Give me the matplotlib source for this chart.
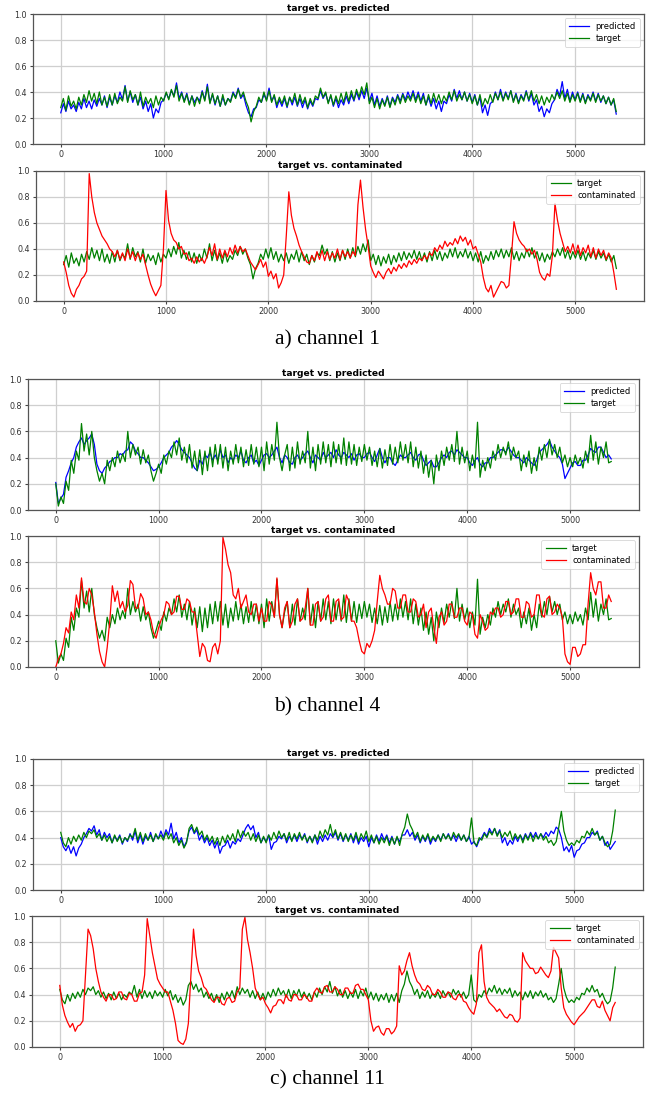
import numpy as np
import matplotlib
matplotlib.use('Agg')
import matplotlib.pyplot as plt

# one value every 25 samples (0 .. 5400)
step = 25

# ---------------- channel 1 ----------------
ch1_target = [
    0.28, 0.35, 0.26, 0.37, 0.29, 0.33, 0.27, 0.36, 0.30, 0.38, 0.32, 0.41, 0.33, 0.39, 0.31, 0.40, 0.30, 0.36, 0.29, 0.38,
    0.30, 0.39, 0.31, 0.36, 0.33, 0.44, 0.32, 0.41, 0.34, 0.38, 0.30, 0.40, 0.29, 0.36, 0.31, 0.35, 0.28, 0.37, 0.30, 0.36,
    0.33, 0.40, 0.34, 0.42, 0.36, 0.45, 0.33, 0.39, 0.32, 0.38, 0.30, 0.37, 0.29, 0.36, 0.31, 0.40, 0.33, 0.44, 0.31, 0.39,
    0.31, 0.37, 0.29, 0.38, 0.30, 0.35, 0.32, 0.39, 0.35, 0.42, 0.36, 0.40, 0.33, 0.28, 0.17, 0.25, 0.29, 0.36, 0.32, 0.40,
    0.33, 0.41, 0.32, 0.38, 0.30, 0.36, 0.31, 0.37, 0.29, 0.36, 0.32, 0.39, 0.30, 0.38, 0.31, 0.36, 0.28, 0.35, 0.30, 0.37,
    0.35, 0.43, 0.36, 0.40, 0.31, 0.38, 0.30, 0.37, 0.31, 0.39, 0.32, 0.40, 0.33, 0.41, 0.34, 0.42, 0.36, 0.44, 0.38, 0.47,
    0.31, 0.36, 0.28, 0.35, 0.27, 0.34, 0.29, 0.36, 0.28, 0.35, 0.30, 0.37, 0.31, 0.38, 0.32, 0.37, 0.33, 0.39, 0.32, 0.38,
    0.31, 0.37, 0.30, 0.38, 0.31, 0.39, 0.32, 0.38, 0.31, 0.37, 0.33, 0.40, 0.34, 0.41, 0.33, 0.38, 0.34, 0.40, 0.33, 0.38,
    0.31, 0.37, 0.30, 0.38, 0.29, 0.35, 0.31, 0.38, 0.32, 0.39, 0.34, 0.40, 0.33, 0.39, 0.34, 0.41, 0.32, 0.38, 0.31, 0.37,
    0.33, 0.40, 0.34, 0.41, 0.33, 0.38, 0.31, 0.37, 0.30, 0.36, 0.32, 0.38, 0.34, 0.40, 0.35, 0.41, 0.33, 0.39, 0.32, 0.38,
    0.33, 0.39, 0.32, 0.38, 0.31, 0.37, 0.33, 0.39, 0.32, 0.38, 0.33, 0.37, 0.31, 0.36, 0.30, 0.35, 0.25]
ch1_predicted = [
    0.24, 0.31, 0.25, 0.33, 0.27, 0.30, 0.25, 0.32, 0.27, 0.35, 0.28, 0.33, 0.27, 0.34, 0.29, 0.35, 0.30, 0.37, 0.28, 0.36,
    0.30, 0.37, 0.32, 0.40, 0.34, 0.45, 0.33, 0.40, 0.32, 0.38, 0.30, 0.36, 0.27, 0.33, 0.25, 0.31, 0.20, 0.27, 0.24, 0.32,
    0.34, 0.39, 0.35, 0.41, 0.37, 0.47, 0.35, 0.40, 0.33, 0.39, 0.31, 0.37, 0.32, 0.36, 0.33, 0.41, 0.34, 0.46, 0.32, 0.38,
    0.30, 0.37, 0.29, 0.36, 0.30, 0.35, 0.33, 0.40, 0.36, 0.43, 0.35, 0.38, 0.30, 0.24, 0.21, 0.27, 0.28, 0.34, 0.32, 0.38,
    0.34, 0.43, 0.33, 0.37, 0.28, 0.34, 0.29, 0.35, 0.28, 0.36, 0.30, 0.36, 0.29, 0.35, 0.28, 0.34, 0.27, 0.33, 0.29, 0.35,
    0.34, 0.41, 0.35, 0.39, 0.32, 0.37, 0.29, 0.35, 0.28, 0.34, 0.30, 0.37, 0.31, 0.38, 0.33, 0.40, 0.34, 0.41, 0.35, 0.43,
    0.33, 0.39, 0.30, 0.37, 0.29, 0.35, 0.30, 0.37, 0.29, 0.36, 0.32, 0.38, 0.33, 0.39, 0.34, 0.40, 0.35, 0.41, 0.34, 0.40,
    0.33, 0.39, 0.30, 0.36, 0.29, 0.35, 0.27, 0.33, 0.25, 0.33, 0.31, 0.38, 0.33, 0.42, 0.35, 0.41, 0.34, 0.40, 0.33, 0.39,
    0.32, 0.38, 0.30, 0.36, 0.24, 0.30, 0.22, 0.31, 0.33, 0.40, 0.34, 0.42, 0.34, 0.40, 0.35, 0.41, 0.33, 0.39, 0.32, 0.38,
    0.34, 0.41, 0.33, 0.39, 0.30, 0.34, 0.25, 0.29, 0.21, 0.27, 0.24, 0.31, 0.34, 0.42, 0.37, 0.48, 0.35, 0.42, 0.33, 0.40,
    0.34, 0.40, 0.33, 0.39, 0.32, 0.38, 0.34, 0.40, 0.33, 0.39, 0.32, 0.37, 0.31, 0.36, 0.30, 0.34, 0.23]
ch1_contaminated = [
    0.30, 0.22, 0.12, 0.06, 0.03, 0.09, 0.12, 0.17, 0.19, 0.23, 0.98, 0.80, 0.68, 0.60, 0.55, 0.50, 0.47, 0.44, 0.40, 0.38,
    0.34, 0.39, 0.32, 0.37, 0.31, 0.40, 0.33, 0.38, 0.31, 0.37, 0.32, 0.36, 0.28, 0.20, 0.13, 0.08, 0.04, 0.08, 0.12, 0.40,
    0.85, 0.62, 0.52, 0.47, 0.45, 0.40, 0.42, 0.36, 0.37, 0.31, 0.33, 0.29, 0.34, 0.30, 0.33, 0.29, 0.34, 0.41, 0.35, 0.44,
    0.32, 0.40, 0.33, 0.39, 0.34, 0.41, 0.36, 0.43, 0.37, 0.42, 0.38, 0.40, 0.35, 0.30, 0.27, 0.24, 0.28, 0.32, 0.26, 0.30,
    0.19, 0.23, 0.17, 0.21, 0.10, 0.14, 0.20, 0.50, 0.84, 0.66, 0.56, 0.50, 0.43, 0.38, 0.34, 0.30, 0.29, 0.35, 0.31, 0.38,
    0.32, 0.39, 0.31, 0.38, 0.32, 0.37, 0.33, 0.40, 0.32, 0.39, 0.34, 0.38, 0.33, 0.38, 0.35, 0.74, 0.93, 0.72, 0.55, 0.42,
    0.27, 0.22, 0.18, 0.23, 0.20, 0.17, 0.22, 0.25, 0.21, 0.26, 0.23, 0.28, 0.25, 0.29, 0.26, 0.31, 0.28, 0.32, 0.29, 0.33,
    0.31, 0.35, 0.32, 0.37, 0.35, 0.41, 0.38, 0.43, 0.40, 0.46, 0.42, 0.45, 0.43, 0.48, 0.44, 0.50, 0.46, 0.49, 0.43, 0.47,
    0.40, 0.42, 0.36, 0.30, 0.18, 0.10, 0.07, 0.12, 0.03, 0.07, 0.11, 0.15, 0.14, 0.10, 0.12, 0.35, 0.61, 0.52, 0.47, 0.44,
    0.42, 0.38, 0.40, 0.36, 0.39, 0.32, 0.22, 0.18, 0.16, 0.21, 0.19, 0.35, 0.75, 0.62, 0.52, 0.45, 0.38, 0.42, 0.37, 0.44,
    0.36, 0.43, 0.35, 0.41, 0.37, 0.43, 0.34, 0.41, 0.33, 0.40, 0.35, 0.39, 0.32, 0.37, 0.33, 0.22, 0.09]

# ---------------- channel 4 ----------------
ch4_target = [
    0.20, 0.03, 0.10, 0.05, 0.22, 0.15, 0.38, 0.28, 0.45, 0.38, 0.66, 0.45, 0.58, 0.42, 0.60, 0.40, 0.30, 0.22, 0.28, 0.20,
    0.38, 0.30, 0.40, 0.33, 0.45, 0.36, 0.43, 0.37, 0.60, 0.40, 0.50, 0.42, 0.48, 0.35, 0.46, 0.36, 0.42, 0.30, 0.22, 0.28,
    0.35, 0.28, 0.42, 0.35, 0.45, 0.40, 0.52, 0.42, 0.55, 0.38, 0.48, 0.36, 0.50, 0.32, 0.45, 0.30, 0.46, 0.27, 0.45, 0.30,
    0.48, 0.33, 0.50, 0.35, 0.50, 0.32, 0.48, 0.30, 0.45, 0.35, 0.50, 0.36, 0.48, 0.33, 0.46, 0.34, 0.50, 0.35, 0.48, 0.33,
    0.48, 0.30, 0.52, 0.35, 0.50, 0.38, 0.67, 0.40, 0.30, 0.42, 0.50, 0.30, 0.48, 0.32, 0.52, 0.35, 0.45, 0.36, 0.60, 0.32,
    0.48, 0.30, 0.50, 0.35, 0.52, 0.36, 0.50, 0.33, 0.52, 0.36, 0.50, 0.35, 0.55, 0.34, 0.52, 0.35, 0.50, 0.34, 0.48, 0.37,
    0.50, 0.38, 0.48, 0.34, 0.45, 0.33, 0.47, 0.32, 0.46, 0.34, 0.50, 0.35, 0.48, 0.36, 0.52, 0.38, 0.50, 0.36, 0.52, 0.33,
    0.48, 0.32, 0.45, 0.28, 0.42, 0.25, 0.38, 0.20, 0.42, 0.30, 0.45, 0.34, 0.48, 0.38, 0.50, 0.37, 0.60, 0.35, 0.48, 0.36,
    0.45, 0.30, 0.42, 0.32, 0.67, 0.25, 0.38, 0.30, 0.40, 0.32, 0.45, 0.38, 0.50, 0.40, 0.48, 0.42, 0.52, 0.38, 0.48, 0.40,
    0.45, 0.30, 0.42, 0.33, 0.45, 0.28, 0.40, 0.30, 0.48, 0.38, 0.50, 0.40, 0.54, 0.42, 0.50, 0.40, 0.48, 0.36, 0.42, 0.33,
    0.40, 0.33, 0.42, 0.35, 0.40, 0.32, 0.45, 0.36, 0.57, 0.38, 0.52, 0.35, 0.48, 0.40, 0.52, 0.36, 0.37]
ch4_predicted = [
    0.21, 0.05, 0.09, 0.12, 0.25, 0.30, 0.36, 0.40, 0.48, 0.52, 0.55, 0.50, 0.53, 0.55, 0.58, 0.50, 0.35, 0.30, 0.28, 0.32,
    0.34, 0.37, 0.38, 0.40, 0.40, 0.43, 0.42, 0.45, 0.46, 0.52, 0.50, 0.45, 0.43, 0.40, 0.40, 0.38, 0.36, 0.33, 0.30, 0.31,
    0.33, 0.36, 0.40, 0.42, 0.44, 0.48, 0.50, 0.53, 0.50, 0.46, 0.44, 0.42, 0.40, 0.36, 0.32, 0.30, 0.38, 0.35, 0.42, 0.40,
    0.44, 0.38, 0.42, 0.38, 0.46, 0.40, 0.42, 0.36, 0.40, 0.38, 0.42, 0.40, 0.45, 0.38, 0.36, 0.40, 0.42, 0.36, 0.38, 0.34,
    0.38, 0.42, 0.43, 0.40, 0.42, 0.45, 0.48, 0.40, 0.36, 0.42, 0.40, 0.36, 0.35, 0.40, 0.42, 0.38, 0.40, 0.43, 0.45, 0.40,
    0.36, 0.42, 0.40, 0.38, 0.44, 0.40, 0.42, 0.44, 0.40, 0.46, 0.42, 0.40, 0.44, 0.42, 0.40, 0.43, 0.38, 0.42, 0.43, 0.40,
    0.40, 0.43, 0.44, 0.40, 0.37, 0.42, 0.47, 0.40, 0.36, 0.40, 0.40, 0.36, 0.34, 0.38, 0.42, 0.40, 0.40, 0.42, 0.44, 0.40,
    0.38, 0.42, 0.43, 0.38, 0.34, 0.36, 0.38, 0.33, 0.33, 0.36, 0.40, 0.42, 0.40, 0.44, 0.45, 0.42, 0.46, 0.44, 0.42, 0.40,
    0.40, 0.36, 0.34, 0.38, 0.40, 0.35, 0.33, 0.36, 0.36, 0.40, 0.40, 0.42, 0.44, 0.46, 0.46, 0.44, 0.48, 0.45, 0.42, 0.40,
    0.40, 0.38, 0.36, 0.40, 0.38, 0.36, 0.34, 0.38, 0.44, 0.46, 0.48, 0.50, 0.53, 0.48, 0.45, 0.42, 0.40, 0.35, 0.24, 0.28,
    0.32, 0.36, 0.37, 0.34, 0.34, 0.38, 0.38, 0.42, 0.47, 0.45, 0.44, 0.48, 0.48, 0.44, 0.40, 0.42, 0.39]
ch4_contaminated = [
    0.00, 0.06, 0.10, 0.18, 0.30, 0.26, 0.42, 0.36, 0.55, 0.45, 0.68, 0.50, 0.48, 0.60, 0.55, 0.42, 0.25, 0.12, 0.04, 0.00,
    0.15, 0.35, 0.62, 0.50, 0.58, 0.45, 0.50, 0.42, 0.47, 0.66, 0.63, 0.45, 0.45, 0.56, 0.52, 0.40, 0.42, 0.36, 0.26, 0.22,
    0.30, 0.36, 0.40, 0.50, 0.48, 0.40, 0.42, 0.54, 0.54, 0.44, 0.44, 0.52, 0.50, 0.42, 0.42, 0.25, 0.08, 0.18, 0.15, 0.05,
    0.04, 0.15, 0.18, 0.10, 0.20, 0.99, 0.90, 0.78, 0.72, 0.55, 0.52, 0.60, 0.45, 0.50, 0.55, 0.42, 0.40, 0.48, 0.48, 0.35,
    0.45, 0.35, 0.35, 0.50, 0.47, 0.38, 0.68, 0.40, 0.30, 0.45, 0.50, 0.30, 0.35, 0.48, 0.52, 0.35, 0.37, 0.45, 0.60, 0.32,
    0.32, 0.48, 0.50, 0.35, 0.38, 0.52, 0.55, 0.35, 0.35, 0.50, 0.52, 0.36, 0.38, 0.55, 0.50, 0.35, 0.35, 0.30, 0.20, 0.12,
    0.10, 0.18, 0.15, 0.20, 0.28, 0.50, 0.70, 0.60, 0.55, 0.48, 0.48, 0.60, 0.58, 0.45, 0.45, 0.55, 0.55, 0.42, 0.42, 0.52,
    0.50, 0.38, 0.40, 0.48, 0.30, 0.42, 0.45, 0.30, 0.18, 0.38, 0.42, 0.32, 0.35, 0.48, 0.48, 0.38, 0.38, 0.45, 0.45, 0.35,
    0.32, 0.42, 0.40, 0.25, 0.22, 0.40, 0.35, 0.28, 0.30, 0.42, 0.40, 0.45, 0.45, 0.38, 0.40, 0.50, 0.50, 0.40, 0.42, 0.52,
    0.52, 0.38, 0.38, 0.50, 0.48, 0.38, 0.40, 0.55, 0.55, 0.40, 0.38, 0.52, 0.54, 0.40, 0.42, 0.48, 0.45, 0.38, 0.10, 0.04,
    0.02, 0.15, 0.15, 0.08, 0.10, 0.17, 0.17, 0.48, 0.72, 0.60, 0.55, 0.65, 0.65, 0.45, 0.45, 0.55, 0.50]

# ---------------- channel 11 ----------------
ch11_target = [
    0.44, 0.36, 0.33, 0.40, 0.35, 0.41, 0.37, 0.42, 0.38, 0.44, 0.40, 0.45, 0.43, 0.46, 0.40, 0.43, 0.38, 0.42, 0.37, 0.41,
    0.36, 0.42, 0.37, 0.41, 0.36, 0.40, 0.38, 0.42, 0.40, 0.47, 0.38, 0.44, 0.37, 0.43, 0.38, 0.42, 0.37, 0.43, 0.39, 0.42,
    0.38, 0.44, 0.39, 0.43, 0.36, 0.40, 0.34, 0.38, 0.32, 0.36, 0.47, 0.50, 0.44, 0.48, 0.42, 0.45, 0.38, 0.42, 0.37, 0.41,
    0.35, 0.40, 0.34, 0.41, 0.36, 0.42, 0.38, 0.43, 0.37, 0.46, 0.40, 0.45, 0.41, 0.44, 0.38, 0.43, 0.37, 0.42, 0.36, 0.41,
    0.36, 0.42, 0.38, 0.44, 0.39, 0.45, 0.40, 0.43, 0.38, 0.44, 0.37, 0.43, 0.39, 0.44, 0.38, 0.42, 0.37, 0.41, 0.36, 0.42,
    0.38, 0.45, 0.40, 0.46, 0.42, 0.50, 0.41, 0.46, 0.39, 0.44, 0.38, 0.43, 0.37, 0.42, 0.38, 0.44, 0.37, 0.43, 0.39, 0.45,
    0.37, 0.42, 0.36, 0.41, 0.35, 0.40, 0.36, 0.41, 0.34, 0.40, 0.35, 0.41, 0.34, 0.43, 0.48, 0.58, 0.50, 0.46, 0.40, 0.44,
    0.37, 0.42, 0.38, 0.43, 0.37, 0.41, 0.38, 0.42, 0.37, 0.43, 0.39, 0.42, 0.38, 0.44, 0.40, 0.43, 0.38, 0.42, 0.37, 0.40,
    0.55, 0.36, 0.34, 0.40, 0.38, 0.43, 0.40, 0.45, 0.42, 0.47, 0.41, 0.45, 0.40, 0.44, 0.41, 0.45, 0.38, 0.43, 0.39, 0.42,
    0.36, 0.42, 0.38, 0.43, 0.37, 0.42, 0.39, 0.43, 0.38, 0.41, 0.36, 0.38, 0.34, 0.37, 0.48, 0.60, 0.45, 0.38, 0.34, 0.36,
    0.34, 0.38, 0.36, 0.41, 0.40, 0.45, 0.42, 0.47, 0.42, 0.44, 0.38, 0.41, 0.36, 0.33, 0.35, 0.45, 0.61]
ch11_predicted = [
    0.40, 0.33, 0.30, 0.34, 0.28, 0.33, 0.26, 0.32, 0.35, 0.40, 0.43, 0.47, 0.45, 0.49, 0.42, 0.46, 0.38, 0.44, 0.40, 0.43,
    0.36, 0.41, 0.38, 0.42, 0.35, 0.40, 0.37, 0.43, 0.38, 0.45, 0.36, 0.42, 0.35, 0.41, 0.38, 0.44, 0.37, 0.42, 0.39, 0.45,
    0.40, 0.46, 0.42, 0.51, 0.39, 0.44, 0.36, 0.40, 0.33, 0.37, 0.45, 0.48, 0.43, 0.46, 0.38, 0.42, 0.36, 0.40, 0.34, 0.38,
    0.32, 0.37, 0.28, 0.33, 0.34, 0.38, 0.32, 0.37, 0.35, 0.39, 0.37, 0.42, 0.47, 0.50, 0.46, 0.49, 0.40, 0.44, 0.36, 0.40,
    0.37, 0.42, 0.31, 0.36, 0.37, 0.41, 0.39, 0.43, 0.36, 0.41, 0.38, 0.42, 0.37, 0.42, 0.39, 0.43, 0.36, 0.41, 0.37, 0.42,
    0.35, 0.41, 0.37, 0.42, 0.38, 0.43, 0.40, 0.44, 0.38, 0.43, 0.37, 0.42, 0.38, 0.43, 0.36, 0.42, 0.35, 0.40, 0.37, 0.41,
    0.33, 0.40, 0.36, 0.42, 0.37, 0.43, 0.38, 0.42, 0.36, 0.41, 0.35, 0.40, 0.37, 0.42, 0.42, 0.46, 0.41, 0.44, 0.38, 0.42,
    0.36, 0.41, 0.37, 0.42, 0.35, 0.40, 0.37, 0.42, 0.38, 0.43, 0.39, 0.43, 0.38, 0.42, 0.37, 0.42, 0.38, 0.42, 0.37, 0.41,
    0.35, 0.37, 0.33, 0.38, 0.40, 0.44, 0.41, 0.47, 0.43, 0.47, 0.42, 0.46, 0.36, 0.40, 0.34, 0.38, 0.35, 0.41, 0.37, 0.42,
    0.38, 0.43, 0.39, 0.44, 0.40, 0.44, 0.39, 0.43, 0.40, 0.44, 0.41, 0.45, 0.43, 0.48, 0.46, 0.40, 0.30, 0.33, 0.29, 0.34,
    0.25, 0.30, 0.31, 0.35, 0.36, 0.40, 0.40, 0.44, 0.42, 0.45, 0.38, 0.41, 0.34, 0.37, 0.31, 0.34, 0.37]
ch11_contaminated = [
    0.47, 0.32, 0.24, 0.19, 0.15, 0.18, 0.12, 0.16, 0.17, 0.20, 0.55, 0.90, 0.85, 0.75, 0.60, 0.50, 0.42, 0.38, 0.35, 0.40,
    0.40, 0.36, 0.37, 0.42, 0.42, 0.37, 0.36, 0.41, 0.40, 0.35, 0.35, 0.41, 0.42, 0.55, 0.98, 0.85, 0.72, 0.62, 0.52, 0.48,
    0.45, 0.42, 0.42, 0.35, 0.28, 0.18, 0.05, 0.03, 0.02, 0.06, 0.18, 0.55, 0.90, 0.70, 0.58, 0.53, 0.46, 0.44, 0.40, 0.36,
    0.34, 0.38, 0.38, 0.33, 0.32, 0.37, 0.38, 0.34, 0.35, 0.42, 0.45, 0.90, 0.99, 0.82, 0.72, 0.60, 0.45, 0.40, 0.36, 0.38,
    0.33, 0.30, 0.26, 0.31, 0.32, 0.36, 0.36, 0.33, 0.40, 0.36, 0.35, 0.40, 0.40, 0.36, 0.36, 0.40, 0.38, 0.35, 0.35, 0.42,
    0.45, 0.42, 0.41, 0.46, 0.47, 0.42, 0.42, 0.46, 0.44, 0.40, 0.40, 0.45, 0.45, 0.41, 0.41, 0.47, 0.48, 0.44, 0.44, 0.40,
    0.36, 0.20, 0.12, 0.15, 0.16, 0.11, 0.09, 0.14, 0.14, 0.10, 0.12, 0.16, 0.62, 0.55, 0.58, 0.66, 0.72, 0.62, 0.55, 0.50,
    0.48, 0.44, 0.43, 0.47, 0.45, 0.40, 0.40, 0.44, 0.42, 0.38, 0.38, 0.42, 0.41, 0.37, 0.36, 0.40, 0.40, 0.35, 0.34, 0.30,
    0.27, 0.25, 0.33, 0.72, 0.78, 0.50, 0.38, 0.34, 0.32, 0.30, 0.27, 0.29, 0.26, 0.23, 0.22, 0.25, 0.24, 0.20, 0.19, 0.22,
    0.72, 0.66, 0.63, 0.60, 0.60, 0.56, 0.57, 0.61, 0.58, 0.55, 0.53, 0.58, 0.76, 0.72, 0.68, 0.45, 0.30, 0.25, 0.22, 0.19,
    0.17, 0.20, 0.23, 0.25, 0.27, 0.30, 0.33, 0.36, 0.36, 0.31, 0.30, 0.35, 0.28, 0.24, 0.20, 0.30, 0.34]

channels = [
    ('a) channel 1', ch1_target, ch1_predicted, ch1_contaminated),
    ('b) channel 4', ch4_target, ch4_predicted, ch4_contaminated),
    ('c) channel 11', ch11_target, ch11_predicted, ch11_contaminated),
]

# axes boxes in pixels (left, right, top, bottom) on a 654x1099 canvas
W, H = 654.0, 1099.0
boxes = [
    (33, 644, 14, 144), (36, 644, 171, 301),
    (28, 639, 379, 510), (28, 639, 536, 667),
    (33, 643, 759, 890), (32, 643, 916, 1047),
]
caption_y = [340, 707, 1080]

plt.rcParams.update({
    'font.family': 'DejaVu Sans',
    'axes.edgecolor': '#555555',
    'axes.linewidth': 0.9,
    'xtick.color': '#444444',
    'ytick.color': '#444444',
    'xtick.labelcolor': '#333333',
    'ytick.labelcolor': '#333333',
    'xtick.major.size': 2.5,
    'ytick.major.size': 2.5,
    'xtick.labelsize': 5.8,
    'ytick.labelsize': 5.8,
    'grid.color': '#cfcfcf',
    'grid.linewidth': 0.9,
})

fig = plt.figure(figsize=(6.54, 10.99), dpi=100)


def make_axes(box):
    l, r, t, b = box
    return fig.add_axes([l / W, 1 - b / H, (r - l) / W, (b - t) / H])


def xs(values):
    return np.arange(len(values)) * step


def style(ax, title):
    ax.set_ylim(0, 1.0)
    ax.set_yticks([0.0, 0.2, 0.4, 0.6, 0.8, 1.0])
    ax.set_xticks([0, 1000, 2000, 3000, 4000, 5000])
    ax.grid(True)
    ax.set_axisbelow(True)
    ax.set_title(title, fontsize=6.6, fontweight='bold', pad=2.5)
    ax.tick_params(pad=2)
    leg = ax.legend(loc='upper right', fontsize=6, handlelength=2.4,
                    borderpad=0.5, labelspacing=0.3, framealpha=0.8)
    leg.get_frame().set_edgecolor('#cccccc')
    leg.get_frame().set_linewidth(0.6)


for i, (caption, target, predicted, contaminated) in enumerate(channels):
    ax = make_axes(boxes[2 * i])
    ax.plot(xs(predicted), predicted, color='blue', lw=0.9, label='predicted')
    ax.plot(xs(target), target, color='green', lw=0.9, label='target')
    style(ax, 'target vs. predicted')

    ax = make_axes(boxes[2 * i + 1])
    ax.plot(xs(target), target, color='green', lw=0.9, label='target')
    ax.plot(xs(contaminated), contaminated, color='red', lw=0.9, label='contaminated')
    style(ax, 'target vs. contaminated')

    fig.text(0.5, 1 - caption_y[i] / H, caption, ha='center', va='center',
             family='Liberation Serif', fontsize=15.5)

fig.savefig('out.png', dpi=100)
